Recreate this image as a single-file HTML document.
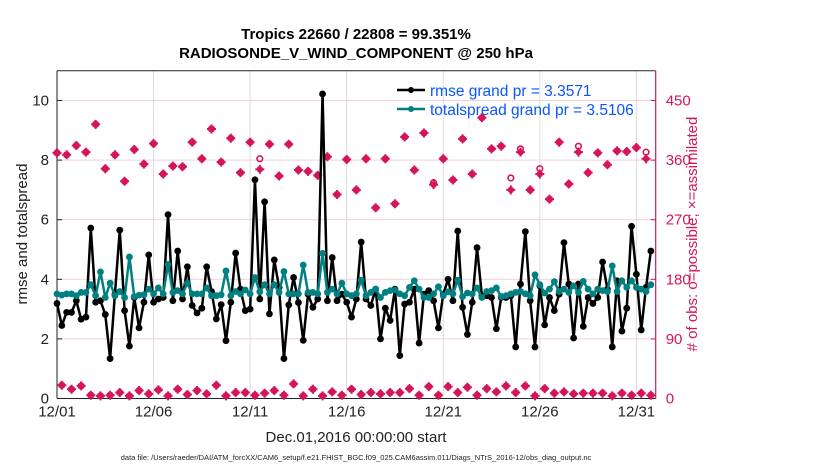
<!DOCTYPE html>
<html><head><meta charset="utf-8"><style>
body{margin:0;background:#fff;}
svg{display:block;font-family:"Liberation Sans",Arial,sans-serif;}
</style></head><body>
<svg id="chart" width="830" height="470" viewBox="0 0 830 470">
<g id="grid"></g>
<g id="axes"></g>
<g id="series"></g>
<text x="356" y="39" text-anchor="middle" font-size="15" font-weight="bold">Tropics 22660 / 22808 = 99.351%</text>
<text x="356" y="58" text-anchor="middle" font-size="15" font-weight="bold">RADIOSONDE_V_WIND_COMPONENT @ 250 hPa</text>
<text x="356" y="442" text-anchor="middle" font-size="15" fill="#222">Dec.01,2016 00:00:00 start</text>
<text transform="translate(27,234) rotate(-90)" text-anchor="middle" font-size="15" fill="#222">rmse and totalspread</text>
<text transform="translate(697,234) rotate(-90)" text-anchor="middle" font-size="15" fill="#d6145a"># of obs: o=possible; ×=assimilated</text>
<text x="356" y="460" text-anchor="middle" font-size="7.5" fill="#222">data file: /Users/raeder/DAI/ATM_forcXX/CAM6_setup/f.e21.FHIST_BGC.f09_025.CAM6assim.011/Diags_NTrS_2016-12/obs_diag_output.nc</text>
<g>
<line x1="397" y1="90" x2="425" y2="90" stroke="#000" stroke-width="2.5"/><circle cx="411" cy="90" r="3" fill="#000"/>
<text x="430" y="96" font-size="15.5" fill="#0a55ff">rmse grand pr = 3.3571</text>
<line x1="397" y1="109" x2="425" y2="109" stroke="#008080" stroke-width="2.5"/><circle cx="411" cy="109" r="3" fill="#008080"/>
<text x="430" y="115" font-size="15.5" fill="#0a55ff">totalspread grand pr = 3.5106</text>
</g>
</svg>
<script>
const rmse=[3.19,2.45,2.89,2.89,3.28,2.66,2.73,5.72,3.23,3.28,2.82,1.34,3.51,5.65,2.95,1.76,3.39,2.37,3.23,4.82,3.23,3.34,3.39,6.17,3.28,4.95,3.34,4.42,3.12,2.87,3.03,4.42,3.59,2.67,3.15,1.94,3.23,4.88,3.67,2.95,3.0,7.34,3.34,6.6,2.84,4.65,3.73,1.34,3.14,4.06,3.22,1.95,3.5,3.06,3.34,10.22,3.28,4.73,3.28,3.5,3.23,2.73,3.34,5.25,3.34,3.12,3.67,2.0,3.03,2.62,3.67,1.44,3.17,3.23,3.67,1.86,3.5,3.62,3.28,2.37,3.5,4.0,3.28,5.62,3.06,2.15,3.23,5.06,3.45,3.45,3.39,2.34,3.39,3.39,3.45,1.73,3.84,5.6,3.28,1.73,3.78,2.47,3.39,2.95,3.5,5.23,3.84,2.03,3.84,2.42,3.39,3.19,3.39,4.58,3.67,1.73,3.95,2.26,3.03,5.78,4.17,2.3,3.73,4.95];
const spread=[3.51,3.47,3.51,3.51,3.45,3.56,3.56,3.82,3.45,4.25,3.39,3.87,3.45,3.59,3.39,4.75,3.42,3.47,3.48,3.67,3.51,3.71,3.51,4.5,3.56,3.62,3.51,3.87,3.51,3.51,3.51,3.71,3.45,3.45,3.48,4.28,3.45,3.59,3.51,3.64,3.51,4.06,3.58,3.82,3.51,3.82,3.56,4.26,3.51,3.51,3.51,4.48,3.56,3.56,3.51,4.87,3.56,3.67,3.51,3.87,3.51,3.45,3.51,3.97,3.45,3.56,3.67,3.39,3.56,3.62,3.64,3.51,3.45,3.73,3.95,3.67,3.39,3.39,3.51,3.75,3.45,3.58,3.51,3.97,3.42,3.54,3.51,3.71,3.39,3.59,3.62,3.71,3.42,3.45,3.51,3.56,3.59,3.51,3.45,4.15,3.82,3.54,3.67,3.92,3.59,3.67,3.56,3.78,3.56,3.93,3.67,3.51,3.67,3.62,3.59,4.45,3.59,3.95,3.73,3.95,3.73,3.67,3.59,3.82];
const obsAssim=[371,20,368,14,382,19,372,5,414,4,347,5,368,9,328,4,376,12,354,7,385,13,339,4,351,14,350,6,387,12,362,7,407,20,357,4,393,9,341,9,387,5,346,8,384,12,336,5,384,22,345,4,343,14,337,4,365,10,308,5,361,14,315,6,362,9,288,7,362,9,294,9,395,15,345,5,401,18,323,5,362,18,330,9,392,17,339,5,424,15,377,10,381,19,315,9,372,19,315,4,339,15,301,8,387,10,324,7,372,8,341,8,371,8,353,4,374,8,373,5,379,8,362,5];
const obsPossible=[371,20,368,14,382,19,372,5,414,4,347,5,368,9,328,4,376,12,354,7,385,13,339,4,351,14,350,6,387,12,362,7,407,20,357,4,393,9,341,9,387,5,362,8,384,12,336,5,384,22,345,4,343,14,337,4,365,10,308,5,361,14,315,6,362,9,288,7,362,9,294,9,395,15,345,5,401,18,326,5,362,18,330,9,392,17,339,5,424,15,377,10,381,19,333,9,377,19,315,4,347,15,301,8,387,10,324,7,381,8,341,8,371,8,353,4,374,8,373,5,379,8,372,5];
const xTickLabels=["12/01","12/06","12/11","12/16","12/21","12/26","12/31"];
const xTickDays=[0,5,10,15,20,25,30];
const yTicksLeft=[0,2,4,6,8,10];
const yTicksRight=[0,90,180,270,360,450];

const L=57,R=655.7,T=70.7,B=398.5,XMAX=31,YMAX=11,RMAX=495;
const sx=d=>L+(R-L)*d/XMAX;
const sy=v=>B-(B-T)*v/YMAX;
const sr=v=>B-(B-T)*v/RMAX;
const tDay=i=>i*0.25;
const NS="http://www.w3.org/2000/svg";
function mk(parent,tag,attrs){const e=document.createElementNS(NS,tag);for(const k in attrs)e.setAttribute(k,attrs[k]);parent.appendChild(e);return e;}
const grid=document.getElementById('grid'),axes=document.getElementById('axes'),ser=document.getElementById('series');

xTickDays.forEach((d,k)=>{
  const gl=mk(grid,'line',{x1:sx(d),x2:sx(d),y1:T,y2:B,stroke:'#dcdcdc','stroke-width':1});
  
  
  const t=mk(axes,'text',{x:sx(d),y:B+18,'text-anchor':'middle','font-size':15,fill:'#222'});
  t.textContent=xTickLabels[k];
  
  
});
yTicksRight.forEach(v=>{
  if(v>0){const gl=mk(grid,'line',{x1:L,x2:R,y1:sr(v),y2:sr(v),stroke:'#f0d0dc','stroke-width':1});
  
  }
  mk(axes,'line',{x1:R-5,x2:R,y1:sr(v),y2:sr(v),stroke:'#d6145a','stroke-width':1});
  const t=mk(axes,'text',{x:R+10,y:sr(v)+5,'font-size':15,fill:'#d6145a'});
  t.textContent=v;
  
  
});
yTicksLeft.forEach(v=>{
  mk(axes,'line',{x1:L,x2:L+5,y1:sy(v),y2:sy(v),stroke:'#222','stroke-width':1});
  const t=mk(axes,'text',{x:L-8,y:sy(v)+5,'text-anchor':'end','font-size':15,fill:'#222'});
  t.textContent=v;
  
  
});
mk(axes,'line',{x1:L,x2:R,y1:T,y2:T,stroke:'#222','stroke-width':1});
mk(axes,'line',{x1:L,x2:R,y1:B,y2:B,stroke:'#222','stroke-width':1});
mk(axes,'line',{x1:L,x2:L,y1:T,y2:B,stroke:'#222','stroke-width':1});
mk(axes,'line',{x1:R,x2:R,y1:T,y2:B,stroke:'#d6145a','stroke-width':1.2});

// obs markers
obsPossible.forEach((v,i)=>{
  const c=mk(ser,'circle',{cx:sx(tDay(i)),cy:sr(v),r:2.8,fill:'none',stroke:'#d6145a','stroke-width':1.6});
  
  
});
obsAssim.forEach((v,i)=>{
  const x=sx(tDay(i)),y=sr(v);
  const g=mk(ser,'g',{});
  
  
  mk(g,'path',{d:`M${x-4.5},${y}L${x+4.5},${y}M${x},${y-4.5}L${x},${y+4.5}`,stroke:'#d6145a','stroke-width':2});
  mk(g,'circle',{cx:x,cy:y,r:3.2,fill:'#d6145a'});
});
function line(arr,color,name){
  const p=mk(ser,'polyline',{points:arr.map((v,i)=>sx(tDay(i))+','+sy(v)).join(' '),fill:'none',stroke:color,'stroke-width':2.5,'stroke-linejoin':'round'});
  
  
  arr.forEach((v,i)=>{
    const c=mk(ser,'circle',{cx:sx(tDay(i)),cy:sy(v),r:3.4,fill:color});
    
    
  });
}
line(rmse,'#000','rmse');
line(spread,'#008080','totalspread');
</script>
</body></html>
